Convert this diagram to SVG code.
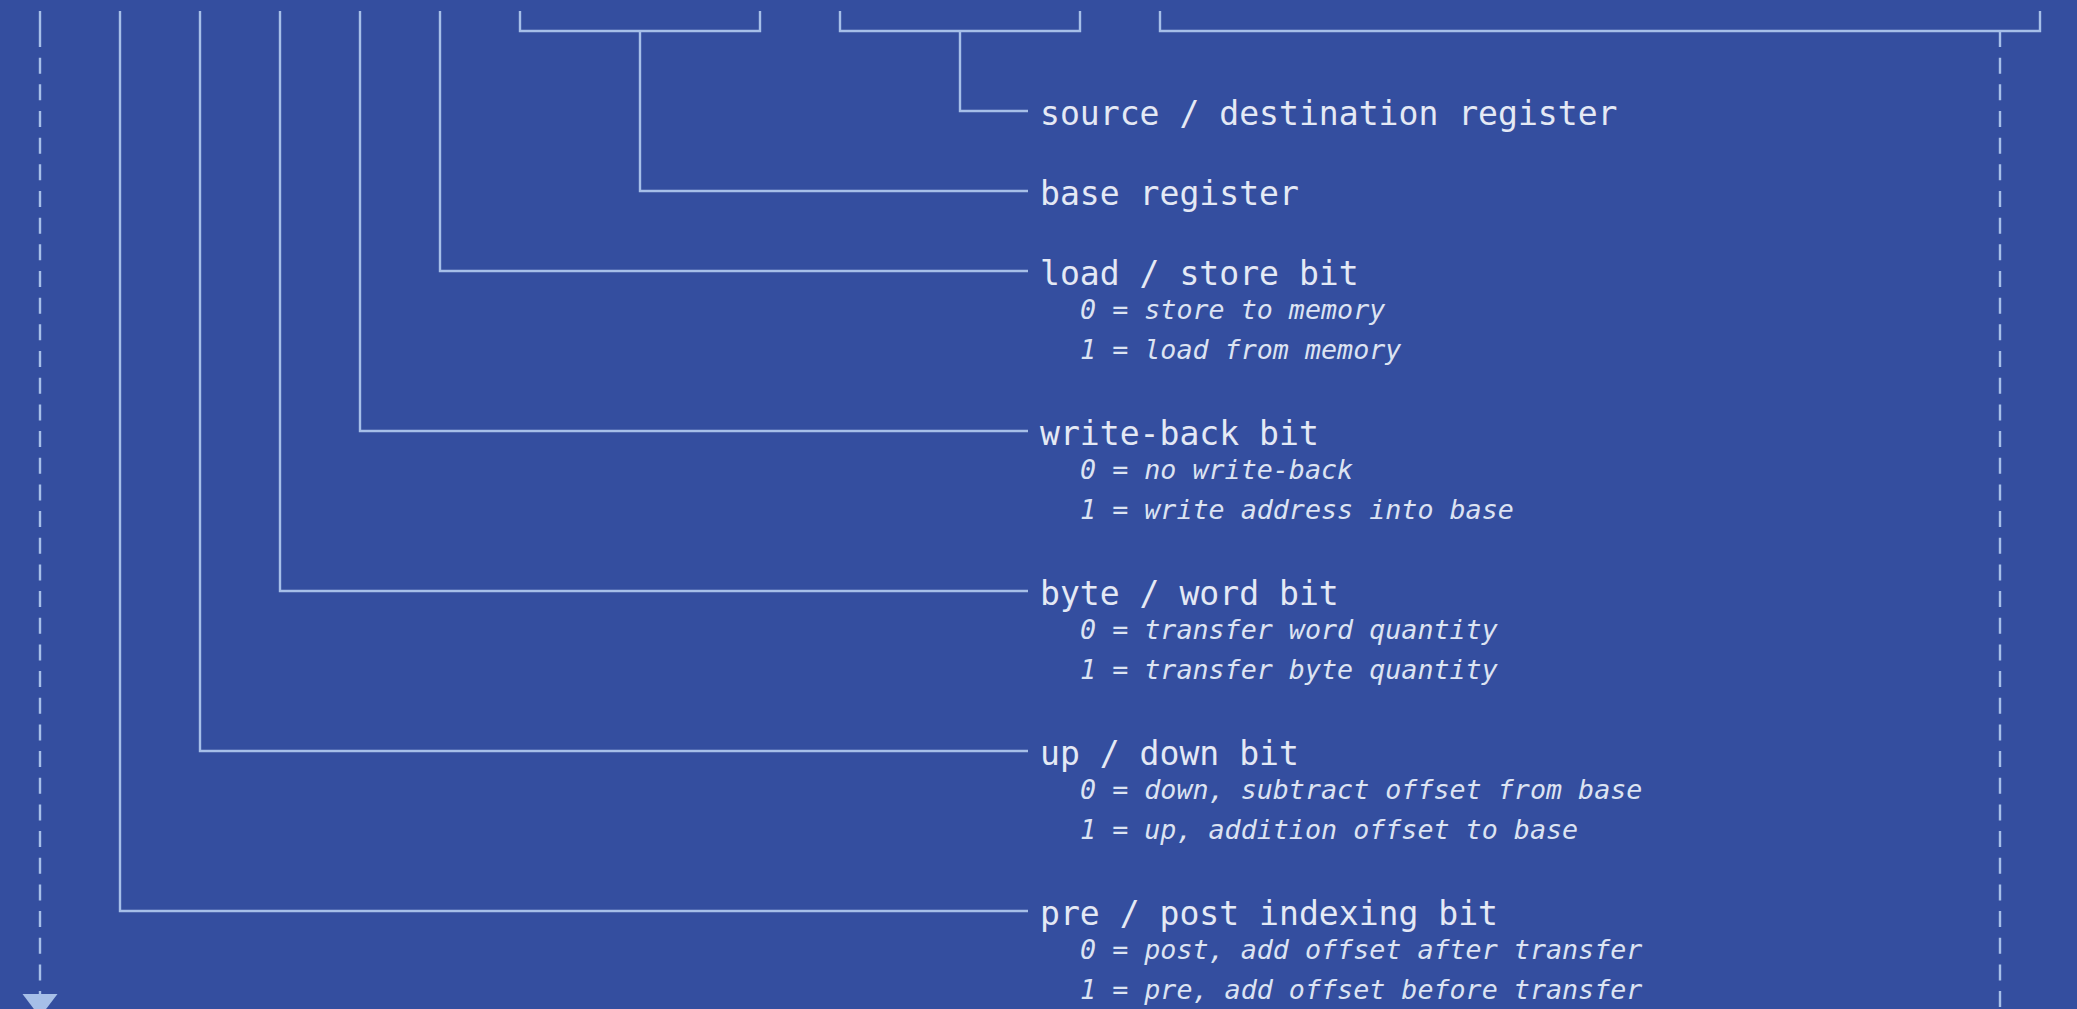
<svg xmlns="http://www.w3.org/2000/svg" width="2077" height="1009" viewBox="0 0 2077 1009">
<style>
.ln{stroke:#a6bfe8;stroke-width:2.4;fill:none}
.dash{stroke:#a6bfe8;stroke-width:2.4;fill:none;stroke-dasharray:16 10.67}
.main{font-family:"DejaVu Sans Mono","Liberation Mono",monospace;font-size:33.1px;fill:#e4e9f5}
.sub{font-family:"DejaVu Sans Mono","Liberation Mono",monospace;font-size:26.7px;font-style:italic;fill:#dce3f2}
</style>
<rect x="0" y="0" width="2077" height="1009" fill="#344e9f"/>
<g id="connectors">
<line class="ln" x1="40" y1="11" x2="40" y2="31"/>
<line class="dash" x1="40" y1="31" x2="40" y2="994"/>
<polygon points="22.5,994 57.5,994 40,1017" fill="#a6bfe8"/>
<path class="ln" d="M120 11 V911 H1028"/>
<path class="ln" d="M200 11 V751 H1028"/>
<path class="ln" d="M280 11 V591 H1028"/>
<path class="ln" d="M360 11 V431 H1028"/>
<path class="ln" d="M440 11 V271 H1028"/>
<path class="ln" d="M520 11 V31 H760 V11"/>
<path class="ln" d="M640 31 V191 H1028"/>
<path class="ln" d="M840 11 V31 H1080 V11"/>
<path class="ln" d="M960 31 V111 H1028"/>
<path class="ln" d="M1160 11 V31 H2040 V11"/>
<line class="dash" x1="2000" y1="31" x2="2000" y2="1012"/>
</g>
<g id="source-destination-register">
<text class="main" x="1040" y="125">source / destination register</text>
</g>
<g id="base-register">
<text class="main" x="1040" y="205">base register</text>
</g>
<g id="load-store-bit">
<text class="main" x="1040" y="285">load / store bit</text>
<text class="sub" x="1080" y="319">0 = store to memory</text>
<text class="sub" x="1080" y="359">1 = load from memory</text>
</g>
<g id="write-back-bit">
<text class="main" x="1040" y="445">write-back bit</text>
<text class="sub" x="1080" y="479">0 = no write-back</text>
<text class="sub" x="1080" y="519">1 = write address into base</text>
</g>
<g id="byte-word-bit">
<text class="main" x="1040" y="605">byte / word bit</text>
<text class="sub" x="1080" y="639">0 = transfer word quantity</text>
<text class="sub" x="1080" y="679">1 = transfer byte quantity</text>
</g>
<g id="up-down-bit">
<text class="main" x="1040" y="765">up / down bit</text>
<text class="sub" x="1080" y="799">0 = down, subtract offset from base</text>
<text class="sub" x="1080" y="839">1 = up, addition offset to base</text>
</g>
<g id="pre-post-indexing-bit">
<text class="main" x="1040" y="925">pre / post indexing bit</text>
<text class="sub" x="1080" y="959">0 = post, add offset after transfer</text>
<text class="sub" x="1080" y="999">1 = pre, add offset before transfer</text>
</g>
</svg>
